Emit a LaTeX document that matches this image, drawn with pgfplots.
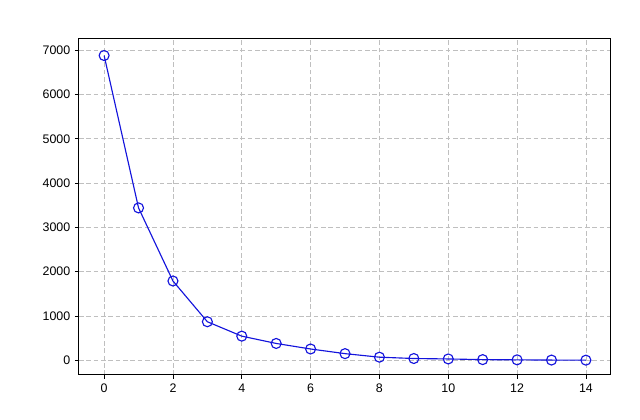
\documentclass[border=0pt]{standalone}
\usepackage{fontspec}
\setmainfont{Liberation Sans}
\usepackage{pgfplots}
\pgfplotsset{compat=1.18}
\begin{document}
\begin{tikzpicture}
\useasboundingbox (-59.25pt,-33.75pt) rectangle (420.75pt,281.25pt);
\begin{axis}[
  at={(0,0)}, anchor=south west,
  scale only axis, width=398.25pt, height=252pt,
  xmin=-0.73, xmax=14.70, ymin=-332, ymax=7253,
  xtick={0,2,...,14}, ytick={0,1000,...,7000},
  tick align=outside, tick pos=left,
  major tick length=3pt,
  grid=major,
  major grid style={dash pattern=on 3.5pt off 2pt, gray!50, line width=0.6pt},
  axis line style={black, line width=0.75pt},
  tick style={black, line width=0.6pt},
  ticklabel style={font=\fontsize{9.3}{11}\selectfont},
  /pgf/number format/assume math mode=true,
  /pgf/number format/1000 sep={},
  scaled y ticks=false,
]
\addplot[color={rgb,255:red,20;green,20;blue,220}, line width=0.85pt, mark=o, mark size=3.75pt, mark options={line width=0.85pt}]
coordinates {
(0,6880) (1,3440) (2,1790) (3,870) (4,545) (5,380) (6,255) (7,150)
(8,70) (9,40) (10,30) (11,15) (12,10) (13,5) (14,3)
};
\end{axis}
\end{tikzpicture}
\end{document}
